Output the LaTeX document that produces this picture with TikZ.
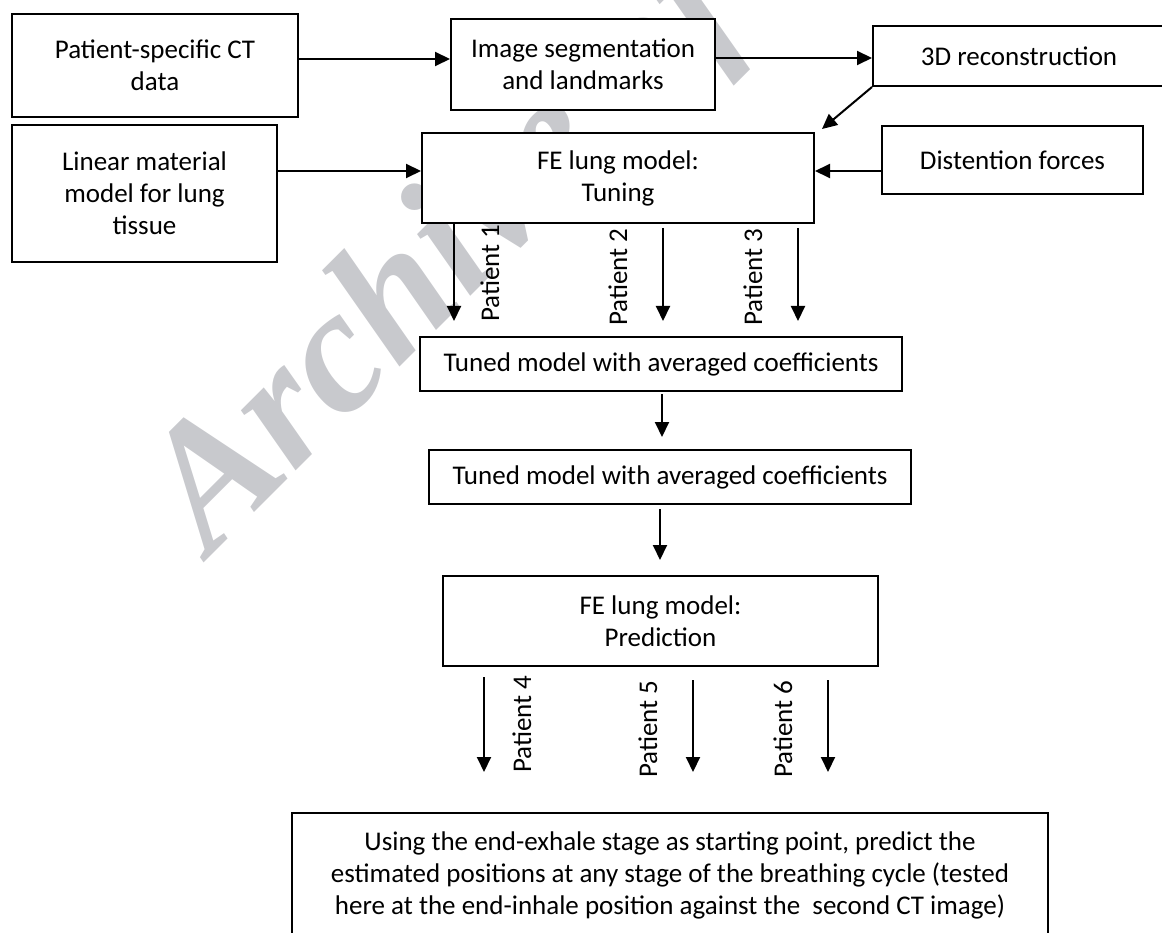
\documentclass[tikz,border=0pt]{standalone}
\usepackage{fontspec}
\setmainfont{Carlito}
\newfontfamily\wmfont{Liberation Serif}
\usetikzlibrary{arrows.meta}
\definecolor{wmgray}{RGB}{200,201,205}
\begin{document}
\begin{tikzpicture}[x=1pt,y=-1pt,
  box/.style={draw=black, line width=2pt, fill=white, align=center, inner sep=0pt, font=\fontsize{27}{32}\selectfont},
  arr/.style={line width=2pt, -{Triangle[length=15pt,width=14pt]}},
  lbl/.style={rotate=90, font=\fontsize{27}{32}\selectfont, inner sep=0pt}]
\useasboundingbox (0,0) rectangle (1162,933);
% watermark
\node[text=wmgray, font=\wmfont\bfseries\itshape\fontsize{177}{177}\selectfont, rotate=45, anchor=base west, inner sep=0pt] (wm) at (210,557) {Archive of SID};
% boxes
\node[box, minimum width=286pt, minimum height=103pt] (A) at (155,65.5) {Patient-specific CT\\data};
\node[box, minimum width=264pt, minimum height=91pt] (C) at (583,64.5) {Image segmentation\\and landmarks};
\node[box, minimum width=292pt, minimum height=60pt] (D) at (1019,56) {3D reconstruction};
\node[box, minimum width=265pt, minimum height=137pt] (B) at (144.5,193.5) {Linear material\\model for lung\\tissue};
\node[box, minimum width=392pt, minimum height=90pt] (E) at (618,178) {FE lung model:\\Tuning};
\node[box, minimum width=261pt, minimum height=68pt] (Dist) at (1012.5,160) {Distention forces};
\node[box, minimum width=482pt, minimum height=54pt] (F) at (661,364) {Tuned model with averaged coefficients};
\node[box, minimum width=482pt, minimum height=54pt] (G) at (670,477) {Tuned model with averaged coefficients};
\node[box, minimum width=435pt, minimum height=90pt] (H) at (660.5,621) {FE lung model:\\Prediction};
\node[box, minimum width=756pt, minimum height=124pt] (I) at (670,875) {Using the end-exhale stage as starting point, predict the\\estimated positions at any stage of the breathing cycle (tested\\here at the end-inhale position against the\ \ second CT image)};
% x positions of vertical arrows
\coordinate (x1) at (454,0);
\coordinate (x2) at (663,0);
\coordinate (x3) at (798,0);
\coordinate (fg) at (662,0);
\coordinate (gh) at (660,0);
\coordinate (x4) at (484,0);
\coordinate (x5) at (693,0);
\coordinate (x6) at (828,0);
% arrows top
\draw[arr] ([yshift=6.5pt]A.east) -- ([yshift=5.5pt]C.west);
\draw[arr] ([yshift=6.5pt]C.east) -- ([yshift=-2pt]D.west);
\draw[arr] (D.south west) -- ([xshift=7pt,yshift=3pt]E.north east);
\draw[arr] ([yshift=22.5pt]B.east) -- ([yshift=7pt]E.west);
\draw[arr] ([yshift=-11pt]Dist.west) -- ([yshift=7pt]E.east);
% patients 1-3
\draw[arr] (E.south -| x1) -- ([yshift=15pt]F.north -| x1);
\draw[arr] ([yshift=-4pt]E.south -| x2) -- ([yshift=15pt]F.north -| x2);
\draw[arr] ([yshift=-4pt]E.south -| x3) -- ([yshift=15pt]F.north -| x3);
\node[lbl] (l1) at (490,273) {Patient 1};
\node[lbl] (l2) at (618,277) {Patient 2};
\node[lbl] (l3) at (753,277) {Patient 3};
% middle
\draw[arr] ([yshift=-2pt]F.south -| fg) -- ([yshift=12pt]G.north -| fg);
\draw[arr] ([yshift=-4pt]G.south -| gh) -- ([yshift=15pt]H.north -| gh);
% patients 4-6
\draw[arr] ([yshift=-10pt]H.south -| x4) -- ([yshift=40pt]I.north -| x4);
\draw[arr] ([yshift=-13pt]H.south -| x5) -- ([yshift=40pt]I.north -| x5);
\draw[arr] ([yshift=-13pt]H.south -| x6) -- ([yshift=40pt]I.north -| x6);
\node[lbl] (l4) at (522,724) {Patient 4};
\node[lbl] (l5) at (648,729) {Patient 5};
\node[lbl] (l6) at (783,729) {Patient 6};
\end{tikzpicture}
\end{document}
